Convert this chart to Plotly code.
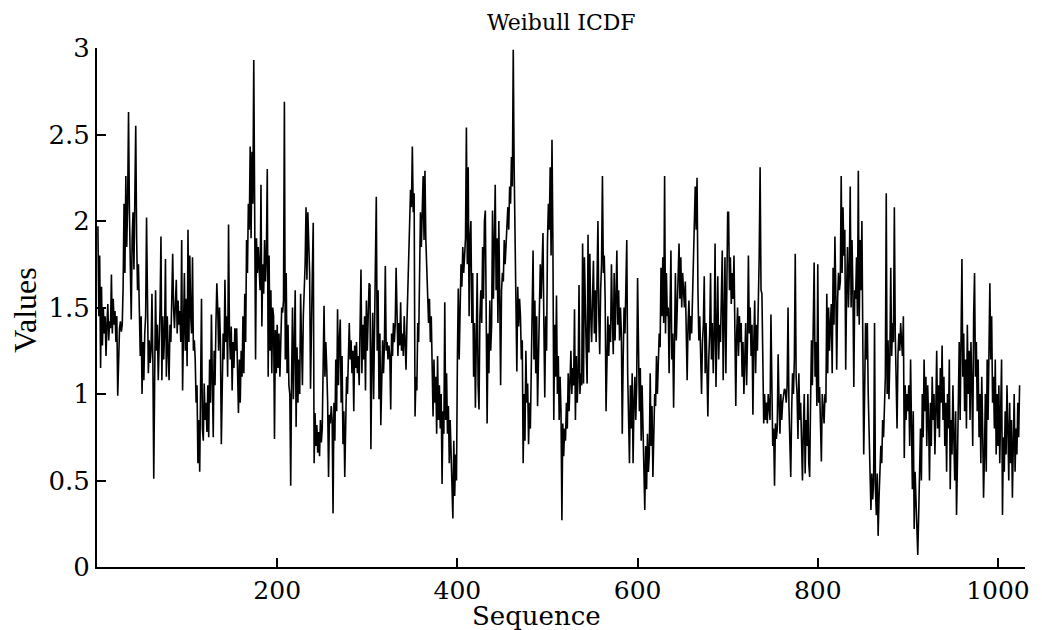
import plotly.graph_objects as go

# Weibull ICDF 序列
values = [
    1.97, 1.45, 1.80, 1.15, 1.62, 1.28, 1.50, 1.35, 1.45, 1.22,
    1.40, 1.52, 1.31, 1.42, 1.38, 1.69, 1.35, 1.55, 1.40, 1.48,
    1.30, 1.45, 0.99, 1.25, 1.38, 1.42, 1.36, 1.40, 1.62, 2.10,
    1.70, 2.26, 1.85, 2.10, 2.63, 2.05, 1.75, 1.43, 1.90, 2.05,
    1.72, 2.20, 2.55, 1.90, 1.60, 1.75, 1.35, 1.22, 1.45, 1.00,
    1.30, 1.08, 1.35, 1.45, 2.02, 1.40, 1.12, 1.31, 1.18, 1.25,
    1.58, 1.20, 0.51, 1.08, 1.60, 1.25, 1.40, 1.08, 1.30, 1.50,
    1.91, 1.08, 1.45, 1.20, 1.35, 1.78, 1.10, 1.45, 1.25, 1.08,
    1.40, 1.30, 1.55, 1.81, 1.50, 1.38, 1.52, 1.66, 1.35, 1.54,
    1.40, 1.48, 1.30, 1.89, 1.02, 1.45, 1.70, 1.25, 1.55, 1.16,
    1.95, 1.30, 1.80, 1.45, 1.35, 1.79, 1.25, 1.31, 1.20, 0.95,
    1.05, 0.60, 0.85, 0.55, 0.95, 1.55, 0.80, 0.73, 1.06, 0.85,
    0.95, 0.78, 1.05, 0.75, 1.20, 0.95, 1.46, 1.10, 0.75, 1.25,
    1.05, 1.40, 1.64, 1.50, 1.25, 1.50, 1.30, 0.71, 1.10, 1.35,
    1.20, 1.66, 1.30, 1.45, 1.10, 1.98, 1.35, 1.20, 1.39, 1.02,
    1.30, 1.15, 1.38, 1.25, 1.38, 1.10, 0.89, 1.20, 0.95, 1.25,
    1.10, 1.45, 1.12, 1.58, 1.30, 1.89, 1.70, 2.10, 1.95, 2.43,
    1.90, 2.40, 2.10, 2.93, 1.80, 1.20, 1.90, 1.70, 1.85, 1.72,
    1.60, 2.21, 1.39, 1.75, 1.58, 1.89, 1.65, 1.80, 2.30, 1.10,
    1.80, 1.25, 1.60, 1.12, 1.50, 1.45, 0.74, 1.37, 1.12, 1.40,
    1.15, 1.35, 1.10, 1.30, 1.50, 1.47, 1.54, 2.69, 1.20, 1.70,
    1.12, 1.40, 1.05, 1.00, 0.47, 1.10, 1.50, 0.97, 1.30, 1.60,
    0.81, 1.27, 0.95, 1.20, 1.00, 1.58, 1.30, 1.05, 1.45, 1.60,
    1.75, 2.08, 1.66, 2.05, 1.80, 1.70, 1.03, 1.55, 1.70, 1.99,
    0.60, 0.89, 0.70, 0.82, 0.66, 0.78, 0.64, 0.85, 0.72, 0.80,
    1.20, 1.51, 1.10, 1.30, 1.15, 0.95, 0.52, 0.88, 0.83, 0.93,
    0.85, 0.31, 0.95, 0.73, 1.20, 0.90, 1.49, 1.05, 1.31, 1.43,
    0.95, 1.22, 0.71, 0.90, 0.52, 0.93, 1.10, 1.00, 1.25, 1.41,
    1.20, 1.31, 1.12, 1.25, 0.90, 1.28, 1.15, 1.30, 1.12, 1.22,
    1.05, 1.35, 1.72, 1.12, 1.40, 1.20, 1.45, 1.02, 1.54, 1.25,
    1.40, 1.64, 1.63, 0.68, 1.20, 1.47, 0.97, 1.30, 1.55, 2.14,
    1.25, 1.60, 0.97, 1.35, 0.82, 1.20, 1.31, 1.12, 1.28, 1.74,
    1.25, 1.30, 1.20, 1.28, 1.22, 0.91, 1.35, 1.22, 1.41, 1.30,
    1.40, 1.73, 1.30, 1.22, 1.41, 1.28, 1.53, 1.25, 1.35, 1.22,
    1.45, 1.30, 1.14, 1.41, 1.60, 1.75, 1.89, 2.18, 2.08, 2.43,
    2.05, 2.16, 0.87, 1.10, 1.02, 1.41, 1.30, 1.80, 2.05, 1.85,
    2.00, 2.26, 1.89, 2.29, 1.89, 1.75, 1.60, 1.41, 1.55, 1.30,
    1.45, 1.12, 0.87, 1.20, 0.95, 1.10, 0.77, 1.22, 0.85, 1.05,
    0.80, 1.00, 0.48, 0.90, 0.77, 1.53, 0.85, 1.12, 0.77, 0.93,
    0.60, 0.85, 0.70, 0.45, 0.28, 0.73, 0.41, 0.65, 0.50, 1.20,
    1.61, 1.20, 1.60, 1.75, 1.62, 1.85, 1.70, 1.80, 1.90, 2.54,
    1.75, 2.31, 1.45, 1.90, 2.00, 1.41, 1.70, 1.10, 1.41, 0.92,
    1.20, 1.70, 1.05, 0.91, 1.45, 1.60, 1.41, 1.85, 1.55, 2.00,
    2.06, 1.60, 0.83, 1.35, 1.12, 1.54, 1.25, 1.40, 2.06, 1.55,
    1.80, 2.21, 1.60, 1.90, 1.41, 2.00, 1.55, 1.05, 1.60, 1.70,
    1.65, 1.89, 1.75, 1.85, 2.00, 2.08, 1.95, 2.20, 2.10, 2.37,
    2.20, 2.99, 2.31, 1.90, 1.70, 1.13, 1.62, 1.39, 1.55, 1.45,
    1.20, 1.31, 0.60, 1.00, 0.73, 1.25, 0.95, 1.06, 0.71, 0.95,
    0.80, 1.10, 1.30, 1.83, 1.20, 1.54, 1.12, 1.45, 0.93, 1.30,
    1.50, 1.75, 1.55, 1.80, 1.93, 1.40, 0.98, 1.45, 1.25, 1.89,
    2.10, 1.95, 2.31, 1.80, 2.47, 1.89, 0.85, 1.40, 1.10, 1.57,
    1.00, 1.22, 0.85, 1.10, 0.90, 0.27, 0.83, 0.64, 0.80, 0.73,
    0.95, 0.80, 1.12, 0.90, 1.05, 1.25, 1.00, 1.15, 1.05, 1.49,
    0.85, 1.22, 0.95, 1.10, 1.63, 1.00, 1.12, 1.05, 1.87, 1.06,
    1.79, 1.40, 1.25, 1.06, 1.92, 1.24, 1.81, 1.45, 1.30, 1.55,
    1.77, 1.35, 1.60, 1.30, 1.55, 2.00, 1.45, 1.23, 1.60, 1.75,
    2.26, 1.70, 1.80, 1.55, 0.90, 1.30, 1.45, 1.22, 1.40, 1.30,
    1.75, 1.45, 1.23, 1.70, 1.31, 1.55, 1.83, 1.40, 1.60, 1.31,
    1.50, 1.35, 0.77, 1.20, 1.50, 1.35, 1.55, 1.89, 1.12, 0.85,
    0.60, 1.05, 0.80, 1.12, 0.60, 0.95, 1.10, 0.85, 1.05, 1.67,
    1.22, 0.90, 1.15, 0.73, 1.05, 0.85, 0.55, 0.33, 0.70, 0.45,
    0.77, 0.55, 0.65, 1.12, 0.70, 0.93, 0.52, 0.85, 1.00, 0.93,
    1.22, 1.00, 1.15, 1.35, 1.27, 1.73, 1.45, 1.79, 1.41, 2.26,
    1.35, 1.70, 1.45, 1.50, 1.12, 1.40, 1.83, 1.20, 1.35, 0.92,
    1.40, 1.70, 1.31, 1.55, 1.60, 1.87, 1.55, 1.79, 1.50, 1.70,
    1.60, 1.50, 1.65, 1.30, 1.08, 1.40, 1.54, 1.31, 1.45, 1.35,
    1.60, 1.89, 2.00, 2.20, 1.95, 2.25, 1.60, 1.31, 1.45, 1.20,
    1.00, 1.30, 1.40, 1.68, 1.12, 1.41, 1.20, 0.87, 1.20, 1.35,
    1.70, 1.20, 1.41, 1.12, 1.35, 1.87, 1.04, 1.50, 1.68, 1.20,
    1.40, 1.30, 1.55, 1.83, 1.08, 1.60, 1.79, 1.12, 1.90, 2.05,
    2.05, 1.60, 1.79, 1.52, 1.70, 1.55, 1.80, 1.10, 0.93, 1.35,
    1.50, 1.22, 1.45, 1.30, 1.41, 1.10, 1.30, 1.00, 1.25, 1.41,
    1.05, 1.30, 1.80, 1.35, 1.50, 1.22, 1.40, 0.88, 1.30, 1.54,
    1.12, 1.40, 1.25, 1.50, 1.80, 2.31, 1.60, 1.58, 1.10, 0.83,
    1.00, 0.85, 0.95, 0.83, 1.00, 0.90, 0.85, 1.46, 0.87, 0.70,
    0.80, 0.47, 0.83, 0.74, 0.80, 1.23, 0.95, 0.77, 1.00, 0.85,
    0.95, 1.00, 1.03, 1.02, 0.95, 1.05, 1.50, 0.93, 0.74, 0.52,
    0.90, 1.12, 1.00, 1.20, 1.81, 1.10, 1.00, 0.74, 1.12, 0.85,
    0.95, 0.75, 0.50, 0.80, 1.00, 0.54, 0.85, 0.70, 1.00, 0.60,
    0.52, 0.95, 1.31, 1.05, 1.50, 1.76, 1.10, 1.30, 0.93, 1.75,
    0.95, 1.04, 0.83, 0.61, 1.00, 0.90, 0.83, 1.00, 0.95, 1.58,
    1.12, 1.50, 1.25, 1.40, 1.52, 1.12, 1.73, 1.40, 1.91, 1.60,
    1.14, 1.54, 1.70, 1.60, 1.65, 2.26, 1.70, 2.08, 1.80, 1.95,
    1.14, 1.60, 1.85, 1.50, 1.70, 2.20, 1.50, 1.89, 1.60, 1.04,
    1.60, 1.55, 1.79, 1.45, 2.29, 1.40, 1.89, 1.60, 2.00, 1.30,
    0.65, 1.00, 1.41, 1.20, 1.41, 1.00, 0.80, 0.60, 0.33, 0.54,
    0.39, 0.50, 1.41, 0.45, 0.30, 0.54, 0.18, 0.40, 0.54, 0.70,
    0.60, 0.85, 0.75, 0.95, 1.10, 2.16, 1.00, 1.31, 0.97, 1.20,
    1.73, 1.22, 1.41, 1.30, 2.08, 1.35, 1.10, 0.80, 1.22, 1.35,
    1.25, 1.41, 1.30, 1.22, 1.45, 0.63, 1.05, 0.85, 1.00, 0.90,
    1.05, 0.70, 1.20, 0.60, 0.45, 0.90, 0.22, 0.55, 0.35, 0.15,
    0.07, 0.30, 0.55, 0.80, 0.50, 1.00, 0.75, 1.20, 0.90, 1.10,
    0.70, 1.05, 0.85, 0.50, 0.95, 0.70, 1.10, 0.85, 1.00, 0.65,
    0.90, 1.25, 0.80, 1.05, 0.75, 1.15, 0.95, 1.28, 0.85, 1.10,
    0.70, 0.95, 0.55, 1.00, 0.80, 1.20, 0.45, 0.85, 0.65, 1.05,
    0.75, 0.50, 0.90, 0.30, 0.60, 1.00, 1.30, 0.85, 1.40, 1.78,
    1.10, 1.35, 0.90, 1.20, 0.80, 1.40, 1.00, 1.25, 0.85, 1.30,
    1.05, 0.70, 1.45, 1.70, 1.10, 1.30, 0.90, 1.20, 0.75, 1.00,
    0.60, 1.10, 0.80, 0.40, 0.65, 1.00, 0.55, 1.20, 0.85, 1.40,
    1.64, 1.20, 1.45, 0.95, 1.10, 0.80, 1.20, 0.65, 1.00, 0.70,
    1.05, 0.60, 0.85, 1.20, 0.30, 0.75, 0.55, 0.90, 0.65, 1.05,
    0.80, 0.50, 0.95, 0.60, 0.85, 0.40, 0.70, 1.00, 0.55, 0.80,
    0.65, 0.95, 0.75, 1.05,
]
sequence = list(range(1, len(values) + 1))

x_ticks = [200, 400, 600, 800, 1000]
y_ticks = [0, 0.5, 1, 1.5, 2, 2.5, 3]
y_tick_text = ['0', '0.5', '1', '1.5', '2', '2.5', '3']

serif = 'DejaVu Serif'

fig = go.Figure()

fig.add_trace(
    go.Scatter(
        x=sequence,
        y=values,
        mode='lines',
        line=dict(color='black', width=1.6),
        showlegend=False
    )
)

# 页面 body 自带 8px 边距，所以图尺寸比窗口小 8px
fig.update_layout(
    width=1034,
    height=622,
    paper_bgcolor='white',
    plot_bgcolor='white',
    margin=dict(l=89, r=17, t=40, b=63),
    xaxis=dict(
        range=[0, 1030],
        tickvals=x_ticks,
        ticks='inside',
        ticklen=9,
        tickwidth=1.5,
        tickcolor='black',
        showline=True,
        linecolor='black',
        linewidth=1.8,
        showgrid=False,
        zeroline=False,
        tickfont=dict(family=serif, size=25, color='black')
    ),
    yaxis=dict(
        range=[0, 3],
        tickvals=y_ticks,
        ticktext=y_tick_text,
        ticks='inside',
        ticklen=9,
        tickwidth=1.5,
        tickcolor='black',
        showline=True,
        linecolor='black',
        linewidth=1.8,
        showgrid=False,
        zeroline=False,
        tickfont=dict(family=serif, size=26, color='black')
    ),
    annotations=[
        dict(text='Weibull ICDF', xref='paper', yref='paper', x=0.5, y=1.05,
             xanchor='center', yanchor='middle',
             showarrow=False, font=dict(family=serif, size=22, color='black')),
        dict(text='Sequence', xref='paper', yref='paper', x=0.474, y=-0.094,
             xanchor='center', yanchor='middle',
             showarrow=False, font=dict(family=serif, size=26, color='black')),
        dict(text='Values', xref='paper', yref='paper', x=-0.077, y=0.495,
             xanchor='center', yanchor='middle',
             textangle=-90, showarrow=False,
             font=dict(family='Liberation Serif', size=32, color='black')),
    ]
)

fig.write_html('out.html')
